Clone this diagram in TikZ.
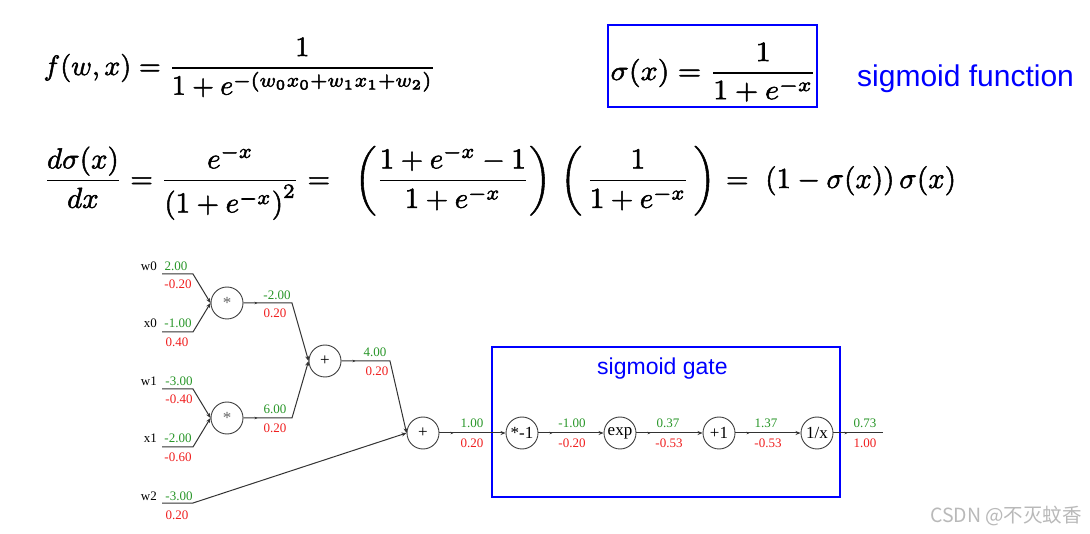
\documentclass[tikz,border=0pt]{standalone}
\usepackage{amsmath}
\usepackage{fontspec}
\newfontfamily\gfont{Liberation Serif}
\newfontfamily\sfont{Liberation Sans}
\newfontfamily\cjk{Noto Sans CJK SC}
\usetikzlibrary{arrows.meta,decorations.markings}
\definecolor{vgreen}{RGB}{40,150,40}
\definecolor{vred}{RGB}{240,30,30}
\definecolor{wmgray}{RGB}{185,185,185}
\newcommand\heavyon{\special{pdf:literal direct 2 Tr 0.18 w}}
\newcommand\heavyoff{\special{pdf:literal direct 0 Tr}}
\begin{document}
\begin{tikzpicture}[x=1pt,y=-1pt,
  op/.style={circle, draw=black!75, line width=0.9pt, minimum size=32pt, inner sep=0pt, font=\gfont\fontsize{17}{17}\selectfont},
  edge/.style={draw=black!80, line width=1pt, -{Stealth[length=5pt,width=4pt]}},
  tick/.style={postaction=decorate, decoration={markings, mark=at position 14pt with {\arrow{Stealth[length=3pt,width=2.5pt]}}}},
  gv/.style={text=vgreen, font=\gfont\fontsize{13}{13}\selectfont, inner sep=0pt},
  rv/.style={text=vred, font=\gfont\fontsize{13}{13}\selectfont, inner sep=0pt},
  inl/.style={font=\gfont\fontsize{13}{13}\selectfont, inner sep=0pt, anchor=east},
  eq/.style={inner sep=0pt, anchor=base west, scale=2.8, transform shape},
  bluebox/.style={draw=blue, line width=1.4pt}
]
\useasboundingbox (0,0) rectangle (1090,534);
\fill[white] (0,0) rectangle (1090,534);

% formulas
\node[eq] (feq) at (43,75) {\heavyon$\displaystyle f(w,x) = \frac{1}{1+e^{-(w_0x_0+w_1x_1+w_2)}}$\heavyoff};
\node[bluebox, minimum width=209pt, minimum height=82pt, inner sep=0pt] (sbox) at (712.5,66) {};
\node[eq, xscale=1.075] (seq) at (610,80) {\heavyon$\displaystyle \sigma(x) = \frac{1}{1+e^{-x}}$\heavyoff};
\node[inner sep=0pt, anchor=base west, text=blue, font=\sfont\fontsize{30}{30}\selectfont] (sfun) at (857,87) {sigmoid function};
\node[eq, scale=1.035] (deq) at (43,188) {\heavyon$\displaystyle \frac{d\sigma(x)}{dx} = \frac{e^{-x}}{\left(1+e^{-x}\right)^2} = \hspace{5.8pt}\left(\frac{1+e^{-x}-1}{1+e^{-x}}\right)\hspace{1.8pt}\left(\hspace{1.5pt}\frac{1}{1+e^{-x}}\hspace{1.5pt}\right)\hspace{1pt} = \hspace{3pt}(1-\sigma(x))\,\sigma(x)$\heavyoff};

% sigmoid gate box
\node[bluebox, minimum width=348pt, minimum height=150pt, inner sep=0pt] (gbox) at (666,422) {};
\node[inner sep=0pt, anchor=base west, text=blue, font=\sfont\fontsize{23}{23}\selectfont] (gtitle) at (597,375) {sigmoid gate};

% operation nodes
\node[op, text=black!60] (m1) at (227,303) {*};
\node[op, text=black!60] (m2) at (227,418) {*};
\node[op] (a1) at (325,361) {+};
\node[op] (a2) at (423,433) {+};
\node[op] (neg) at (522,433) {*-1};
\node[op] (ex) at (620,433) {exp};
\node[op] (p1) at (719,433) {+1};
\node[op] (inv) at (817,433) {1/x};

% input coordinates
\coordinate (w0s) at (162,274); \coordinate (w0k) at (193,274);
\coordinate (x0s) at (162,332); \coordinate (x0k) at (193,332);
\coordinate (w1s) at (162,389); \coordinate (w1k) at (193,389);
\coordinate (x1s) at (162,447); \coordinate (x1k) at (193,447);
\coordinate (w2s) at (162,503); \coordinate (w2k) at (193,503);
\coordinate (m1k) at (292,303);
\coordinate (m2k) at (292,418);
\coordinate (a1k) at (390,361);
\coordinate (outk) at (883,433);

% input labels
\node[inl] (w0l) at (157,266) {w0};
\node[inl] (x0l) at (157,323) {x0};
\node[inl] (w1l) at (157,381) {w1};
\node[inl] (x1l) at (157,438) {x1};
\node[inl] (w2l) at (157,496) {w2};

% edges
\draw[edge] (w0s) -- (w0k) -- (m1.west);
\draw[edge] (x0s) -- (x0k) -- (m1.west);
\draw[edge] (w1s) -- (w1k) -- (m2.west);
\draw[edge] (x1s) -- (x1k) -- (m2.west);
\draw[edge] (w2s) -- (w2k) -- (a2.west);
\draw[edge,tick] (m1.east) -- (m1k) -- (a1.west);
\draw[edge,tick] (m2.east) -- (m2k) -- (a1.west);
\draw[edge,tick] (a1.east) -- (a1k) -- (a2.west);
\draw[edge,tick] (a2) -- (neg);
\draw[edge,tick] (neg) -- (ex);
\draw[edge,tick] (ex) -- (p1);
\draw[edge,tick] (p1) -- (inv);
\draw[draw=black!80, line width=1pt,tick] (inv.east) -- (outk);

% values
\node[gv] (v1) at (176,266) {2.00};   \node[rv] (g1) at (178,284) {-0.20};
\node[gv] (v2) at (178,323) {-1.00};  \node[rv] (g2) at (177,342) {0.40};
\node[gv] (v3) at (179,381) {-3.00};  \node[rv] (g3) at (179,399) {-0.40};
\node[gv] (v4) at (178,438) {-2.00};  \node[rv] (g4) at (178,457) {-0.60};
\node[gv] (v5) at (179,496) {-3.00};  \node[rv] (g5) at (177,515) {0.20};
\node[gv] (v6) at (277,295) {-2.00};  \node[rv] (g6) at (275,313) {0.20};
\node[gv] (v7) at (275,409) {6.00};   \node[rv] (g7) at (275,428) {0.20};
\node[gv] (v8) at (375,352) {4.00};   \node[rv] (g8) at (377,371) {0.20};
\node[gv] (v9) at (472,423) {1.00};   \node[rv] (g9) at (472,443) {0.20};
\node[gv] (v10) at (572,423) {-1.00}; \node[rv] (g10) at (572,443) {-0.20};
\node[gv] (v11) at (668,423) {0.37};  \node[rv] (g11) at (669,443) {-0.53};
\node[gv] (v12) at (766,423) {1.37};  \node[rv] (g12) at (768,443) {-0.53};
\node[gv] (v13) at (865,423) {0.73};  \node[rv] (g13) at (865,443) {1.00};

% watermark
\node[inner sep=0pt, text=wmgray, font=\cjk\fontsize{19.5}{19.5}\selectfont] (wm) at (1006,516) {CSDN @不灭蚊香};
\end{tikzpicture}
\end{document}
